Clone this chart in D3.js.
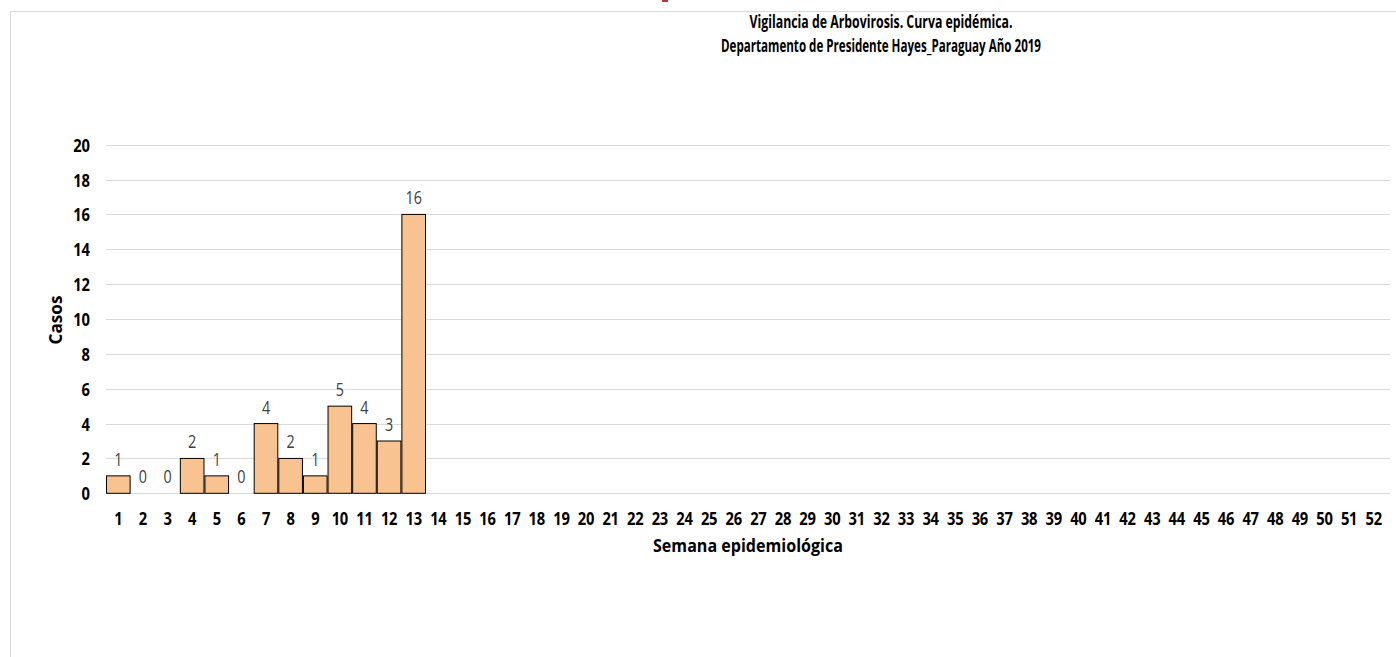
<!DOCTYPE html>
<html>
<head>
<meta charset="utf-8">
<script src="https://cdn.jsdelivr.net/npm/d3@7"></script>
<style>
  html, body { margin: 0; padding: 0; background: #fff; }
  svg { display: block; font-family: "Open Sans", "Noto Sans", sans-serif; }
</style>
</head>
<body>
<svg id="chart" width="1396" height="657"></svg>
<script>
const weeks = d3.range(1, 53).map(String);
const cases = [1, 0, 0, 2, 1, 0, 4, 2, 1, 5, 4, 3, 16];
const y_ticks = [0, 2, 4, 6, 8, 10, 12, 14, 16, 18, 20];
const title_lines = [
  "Vigilancia de Arbovirosis. Curva epidémica.",
  "Departamento de Presidente Hayes_Paraguay Año 2019",
];
const title_widths = [263, 320];
const x_title = "Semana epidemiológica";
const y_title = "Casos";

const margin = { left: 106, right: 1386, top: 144.7, bottom: 493.3 };
const bar_color = "#f9c291";
const grid_color = "#d9d9d9";
const squeeze = 0.82; // narrow the glyphs a bit, the original font is condensed

const svg = d3.select("#chart");

// outer frame
svg.append("rect")
  .attr("x", 10.5).attr("y", 11.5)
  .attr("width", 1400).attr("height", 700)
  .attr("fill", "none").attr("stroke", grid_color);

// bit of red poking in from above the frame
svg.append("rect")
  .attr("x", 662).attr("y", 0)
  .attr("width", 6).attr("height", 2)
  .attr("fill", "#b03a3a");

const x = d3.scaleBand().domain(weeks).range([margin.left, margin.right]).padding(0);
const y = d3.scaleLinear().domain([0, 20]).range([margin.bottom, margin.top]);

// gridlines
svg.append("g")
  .selectAll("line")
  .data(y_ticks)
  .join("line")
  .attr("x1", margin.left).attr("x2", 1390)
  .attr("y1", (d) => Math.round(y(d)) + 0.5)
  .attr("y2", (d) => Math.round(y(d)) + 0.5)
  .attr("stroke", grid_color).attr("stroke-width", 1);

// y axis labels
const y_axis = svg.append("g")
  .attr("transform", `translate(${margin.left - 16},0)`)
  .call(d3.axisLeft(y).tickValues(y_ticks).tickSize(0).tickPadding(0));
y_axis.select(".domain").remove();
y_axis.selectAll("text")
  .attr("x", 0)
  .attr("dy", "0.36em")
  .attr("font-size", 18).attr("font-weight", 700)
  .attr("fill", "#000").attr("font-family", "Open Sans")
  .attr("transform", `scale(${squeeze},1)`);

// bars
const data = cases.map((v, i) => ({ week: weeks[i], value: v }));
svg.append("g")
  .selectAll("rect")
  .data(data.filter((d) => d.value > 0))
  .join("rect")
  .attr("x", (d) => x(d.week) + 0.5)
  .attr("y", (d) => y(d.value))
  .attr("width", x.bandwidth() - 1)
  .attr("height", (d) => y(0) - y(d.value))
  .attr("fill", bar_color)
  .attr("stroke", "#000")
  .attr("stroke-width", 1);

// data labels
svg.append("g")
  .selectAll("text")
  .data(data)
  .join("text")
  .attr("transform", (d) =>
    `translate(${x(d.week) + x.bandwidth() / 2},${y(d.value) - 10}) scale(${squeeze},1)`)
  .attr("text-anchor", "middle")
  .attr("font-size", 17.5)
  .attr("fill", "#404040")
  .text((d) => d.value);

// x axis labels
const x_axis = svg.append("g")
  .attr("transform", `translate(0,${margin.bottom})`)
  .call(d3.axisBottom(x).tickSize(0).tickPadding(19));
x_axis.select(".domain").remove();
x_axis.selectAll("text")
  .attr("font-size", 18).attr("font-weight", 700)
  .attr("fill", "#000").attr("letter-spacing", -0.3)
  .attr("font-family", "Open Sans")
  .attr("transform", `scale(${squeeze},1)`);

// axis titles
svg.append("text")
  .attr("x", 748).attr("y", 552)
  .attr("text-anchor", "middle")
  .attr("font-size", 17).attr("font-weight", 700)
  .attr("textLength", 190).attr("lengthAdjust", "spacingAndGlyphs")
  .text(x_title);

svg.append("text")
  .attr("transform", "translate(62,320) rotate(-90)")
  .attr("text-anchor", "middle")
  .attr("font-size", 18).attr("font-weight", 700)
  .attr("textLength", 49).attr("lengthAdjust", "spacingAndGlyphs")
  .text(y_title);

// title
svg.append("g")
  .selectAll("text")
  .data(title_lines)
  .join("text")
  .attr("x", 881)
  .attr("y", (d, i) => 28 + i * 24)
  .attr("text-anchor", "middle")
  .attr("font-size", 17.5).attr("font-weight", 700)
  .attr("textLength", (d, i) => title_widths[i])
  .attr("lengthAdjust", "spacingAndGlyphs")
  .text((d) => d);
</script>
</body>
</html>
